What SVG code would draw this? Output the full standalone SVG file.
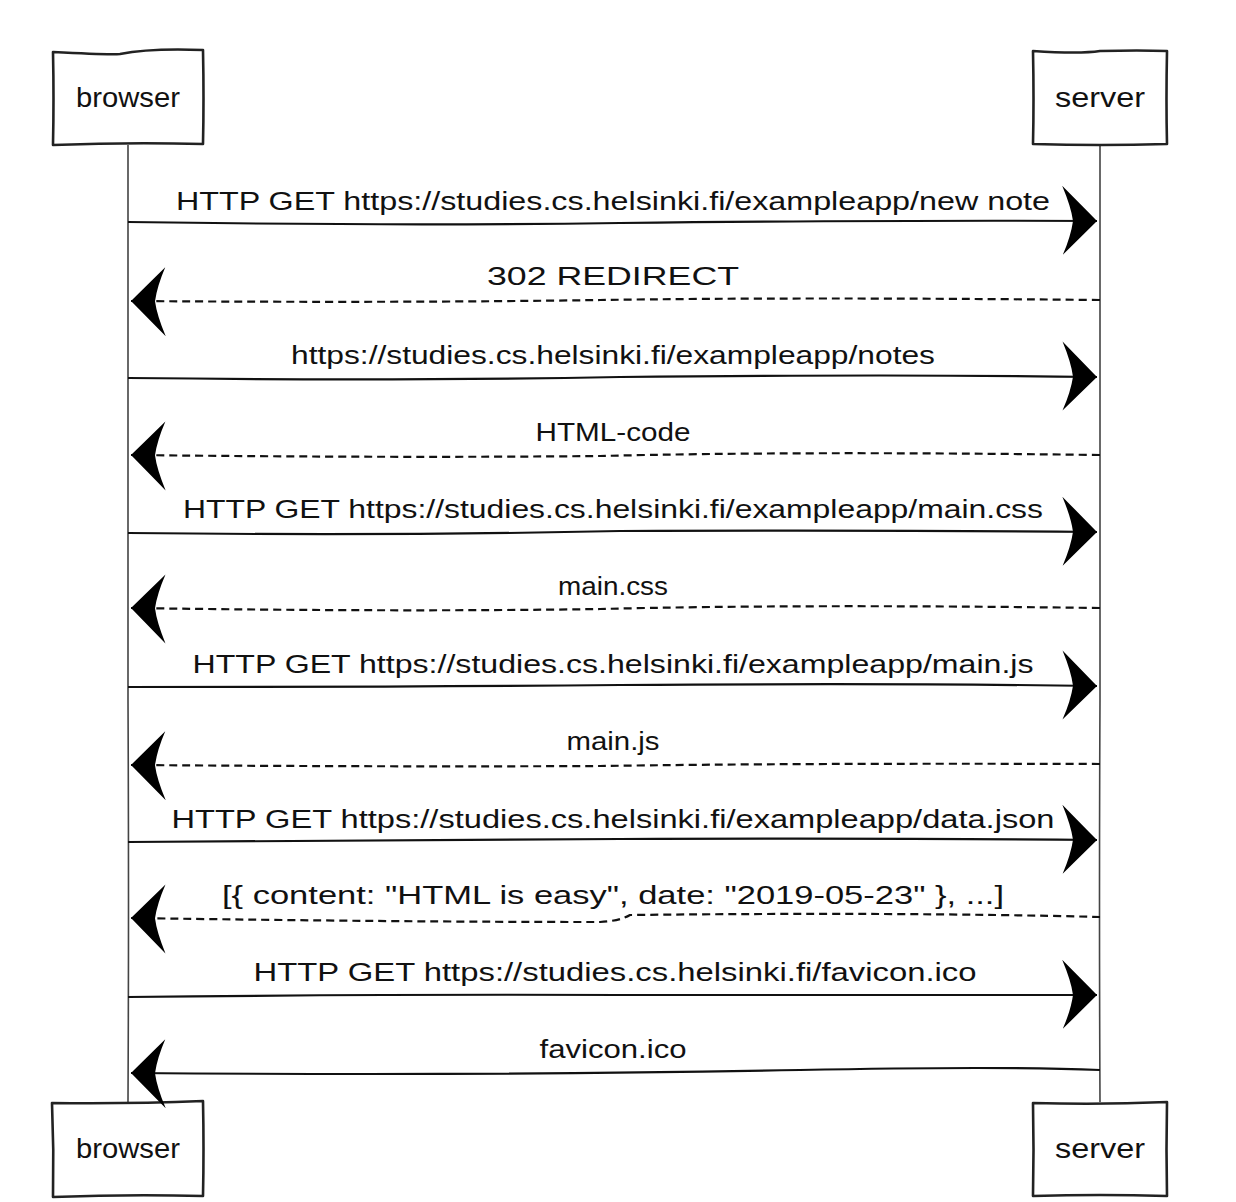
<svg xmlns="http://www.w3.org/2000/svg" width="1236" height="1202" viewBox="0 0 1236 1202">
<style>
.box{fill:#fff;stroke:#222;stroke-width:2.6;stroke-linejoin:round}
.life{fill:none;stroke:#444;stroke-width:1.6}
.msg{fill:none;stroke:#111;stroke-width:2.2}
.dash{stroke-dasharray:8 5}
.lbl{font-family:"Liberation Sans",Arial,sans-serif;font-size:25px;fill:#111;text-anchor:middle}
.nm{font-family:"Liberation Sans",Arial,sans-serif;font-size:28px;fill:#111;text-anchor:middle}
</style>
<defs>
<marker id="ah" markerUnits="userSpaceOnUse" markerWidth="60" markerHeight="80" viewBox="-40 -40 45 80" refX="0" refY="0" orient="auto">
<path d="M0,0 Q-16,-16 -35,-35 Q-26,-14 -24,0 Q-26,15 -34,34 Q-16,16 0,0 Z" fill="#000"/>
</marker>
</defs>
<rect width="1236" height="1202" fill="#fff"/>
<g id="lifelines">
<path class="life" d="M128,145 Q127,500 128,700 T128,1102"/>
<path class="life" d="M1100,145 Q1101,500 1100,700 T1100,1102"/>
</g>
<g id="browser-top">
<path class="box" d="M53,52 Q110,55 120,54 Q150,48 203,50 Q204,100 203,144 Q130,142 53,145 Q54,100 53,52 Z"/>
<text class="nm" x="128" y="107" textLength="104" lengthAdjust="spacingAndGlyphs">browser</text>
</g>
<g id="server-top">
<path class="box" d="M1033,51 Q1080,54 1100,51 Q1140,50 1167,51 Q1166,100 1167,144 Q1100,146 1033,144 Q1034,100 1033,51 Z"/>
<text class="nm" x="1100" y="107" textLength="90" lengthAdjust="spacingAndGlyphs">server</text>
</g>
<g id="browser-bottom">
<path class="box" d="M52,1103 Q130,1104 203,1101 Q204,1150 203,1196 Q130,1194 53,1197 Q54,1150 52,1103 Z"/>
<text class="nm" x="128" y="1158" textLength="104" lengthAdjust="spacingAndGlyphs">browser</text>
</g>
<g id="server-bottom">
<path class="box" d="M1033,1103 Q1100,1105 1167,1102 Q1166,1150 1167,1196 Q1100,1194 1033,1196 Q1034,1150 1033,1103 Z"/>
<text class="nm" x="1100" y="1158" textLength="90" lengthAdjust="spacingAndGlyphs">server</text>
</g>
<g id="connectors">
<path class="msg" d="M128,222 Q400,226 620,223 Q900,220 1097,221" marker-end="url(#ah)"/>
<path class="msg dash" d="M1100,300 Q800,297 600,300 Q400,303 131,301" marker-end="url(#ah)"/>
<path class="msg" d="M128,378 Q400,381 620,377 Q900,374 1097,377" marker-end="url(#ah)"/>
<path class="msg dash" d="M1100,455 Q800,451 600,456 Q400,458 131,455" marker-end="url(#ah)"/>
<path class="msg" d="M128,533 Q400,536 620,531 Q900,530 1097,532" marker-end="url(#ah)"/>
<path class="msg dash" d="M1100,608 Q800,604 600,609 Q400,612 131,608" marker-end="url(#ah)"/>
<path class="msg" d="M128,687 Q400,687 620,685 Q900,683 1097,686" marker-end="url(#ah)"/>
<path class="msg dash" d="M1100,764 Q800,763 600,766 Q400,767 131,765" marker-end="url(#ah)"/>
<path class="msg" d="M128,842 Q400,840 620,839 Q900,838 1097,840" marker-end="url(#ah)"/>
<path class="msg dash" d="M1100,917 Q900,912 630,915 Q620,921 600,922 Q400,922 131,918" marker-end="url(#ah)"/>
<path class="msg" d="M128,997 Q400,994 620,995 Q900,994 1097,995" marker-end="url(#ah)"/>
<path class="msg" d="M1100,1070 Q1000,1066 800,1070 Q500,1076 131,1073" marker-end="url(#ah)"/>
</g>
<g id="labels">
<text class="lbl" x="613" y="210" textLength="874" lengthAdjust="spacingAndGlyphs">HTTP GET https://studies.cs.helsinki.fi/exampleapp/new note</text>
<text class="lbl" x="613" y="285" textLength="252" lengthAdjust="spacingAndGlyphs">302 REDIRECT</text>
<text class="lbl" x="613" y="364" textLength="644" lengthAdjust="spacingAndGlyphs">https://studies.cs.helsinki.fi/exampleapp/notes</text>
<text class="lbl" x="613" y="441" textLength="155" lengthAdjust="spacingAndGlyphs">HTML-code</text>
<text class="lbl" x="613" y="518" textLength="860" lengthAdjust="spacingAndGlyphs">HTTP GET https://studies.cs.helsinki.fi/exampleapp/main.css</text>
<text class="lbl" x="613" y="595" textLength="110" lengthAdjust="spacingAndGlyphs">main.css</text>
<text class="lbl" x="613" y="673" textLength="841" lengthAdjust="spacingAndGlyphs">HTTP GET https://studies.cs.helsinki.fi/exampleapp/main.js</text>
<text class="lbl" x="613" y="750" textLength="93" lengthAdjust="spacingAndGlyphs">main.js</text>
<text class="lbl" x="613" y="828" textLength="883" lengthAdjust="spacingAndGlyphs">HTTP GET https://studies.cs.helsinki.fi/exampleapp/data.json</text>
<text class="lbl" x="613" y="904" textLength="782" lengthAdjust="spacingAndGlyphs">[{ content: "HTML is easy", date: "2019-05-23" }, ...]</text>
<text class="lbl" x="615" y="981" textLength="723" lengthAdjust="spacingAndGlyphs">HTTP GET https://studies.cs.helsinki.fi/favicon.ico</text>
<text class="lbl" x="613" y="1058" textLength="147" lengthAdjust="spacingAndGlyphs">favicon.ico</text>
</g>
</svg>
